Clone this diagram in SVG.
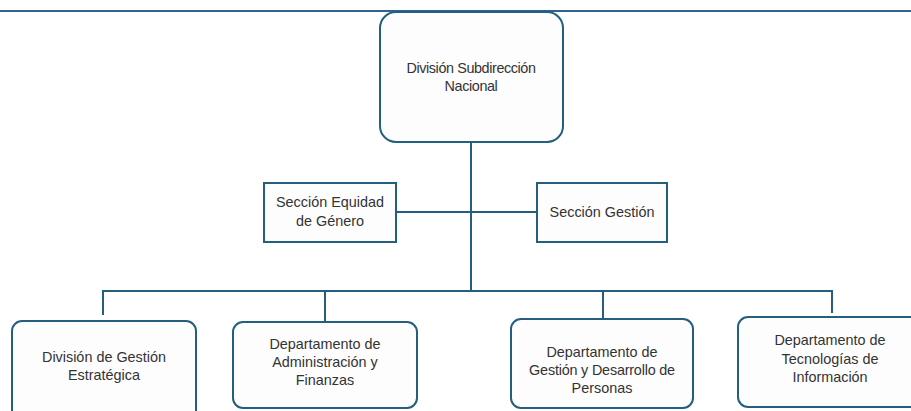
<svg xmlns="http://www.w3.org/2000/svg" width="911" height="411" viewBox="0 0 911 411">
<style>
.box{fill:#fdfdfd;stroke:#245f80;stroke-width:2}
.lnk{fill:none;stroke:#245f80;stroke-width:2}
text{font-family:"Liberation Sans",Arial,sans-serif;font-size:14.4px;fill:#333;text-anchor:middle}
</style>
<rect width="911" height="411" fill="#ffffff"/>
<line x1="0" y1="11" x2="911" y2="11" stroke="#33628f" stroke-width="2.2"/>
<g id="connectors">
<path class="lnk" d="M471 142V291"/>
<path class="lnk" d="M396 212H537"/>
<path class="lnk" d="M103 315V291H832V313"/>
<path class="lnk" d="M325 291V322"/>
<path class="lnk" d="M603 291V319"/>
</g>
<g id="n-top">
<rect class="box" x="380" y="12" width="183" height="130" rx="16"/>
<text x="471" y="73" style="letter-spacing:-0.4px">División Subdirección</text>
<text x="471" y="91" style="letter-spacing:-0.4px">Nacional</text>
</g>
<g id="n-equidad">
<rect class="box" x="264" y="183" width="132" height="59"/>
<text x="330" y="207">Sección Equidad</text>
<text x="330" y="226">de Género</text>
</g>
<g id="n-gestion">
<rect class="box" x="537" y="183" width="130" height="59"/>
<text x="602" y="217">Sección Gestión</text>
</g>
<g id="n-dge">
<rect class="box" x="12" y="321" width="184" height="100" rx="10"/>
<text x="104" y="362">División de Gestión</text>
<text x="104" y="380">Estratégica</text>
</g>
<g id="n-daf">
<rect class="box" x="233" y="322" width="184" height="86" rx="10"/>
<text x="325" y="349">Departamento de</text>
<text x="325" y="367">Administración y</text>
<text x="325" y="385">Finanzas</text>
</g>
<g id="n-dgdp">
<rect class="box" x="511" y="319" width="182" height="89" rx="10"/>
<text x="602" y="357">Departamento de</text>
<text x="602" y="375" style="letter-spacing:-0.2px">Gestión y Desarrollo de</text>
<text x="602" y="393">Personas</text>
</g>
<g id="n-dti">
<rect class="box" x="738" y="317" width="190" height="90" rx="10"/>
<text x="830" y="345">Departamento de</text>
<text x="830" y="364">Tecnologías de</text>
<text x="830" y="382">Información</text>
</g>
</svg>
